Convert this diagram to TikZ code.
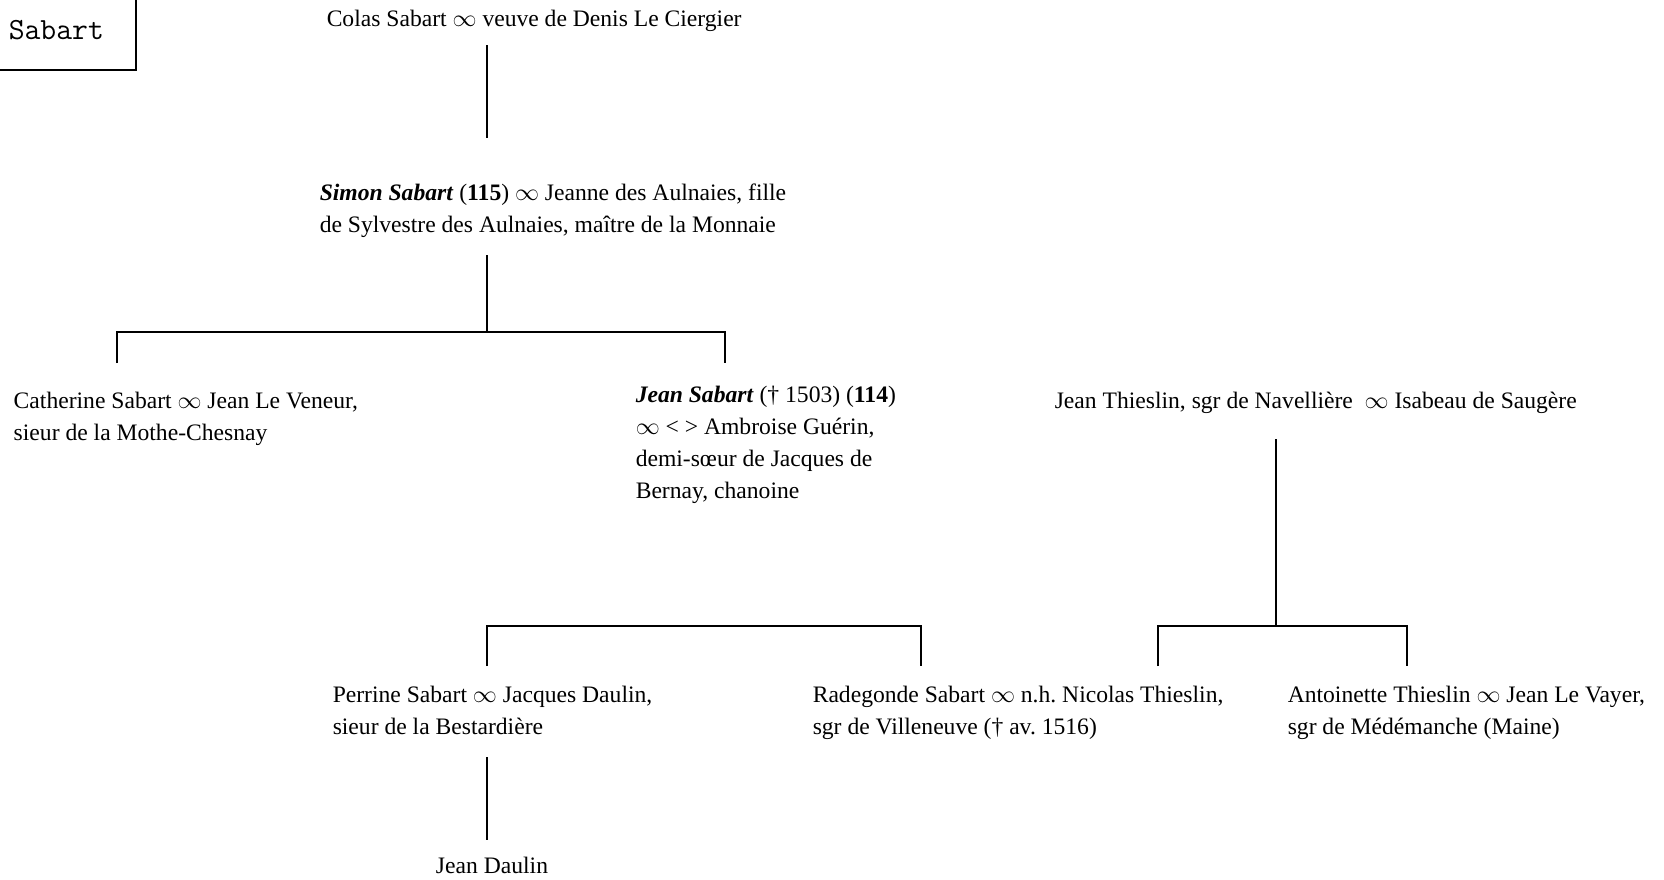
\documentclass[tikz,border=0pt]{standalone}
\usepackage{fontspec}
\setmainfont{Liberation Serif}
\usepackage{tikz}
\usetikzlibrary{positioning}

\begin{document}
\begin{tikzpicture}[x=0.5pt, y=-0.5pt, line width=0.75pt,
    personne/.style={anchor=base west, inner sep=0pt, align=left,
        font=\fontsize{11.8}{15.9}\selectfont}]
    \useasboundingbox (0,0) rectangle (1664,879);

    % Cartouche
    \draw (-10,-10) rectangle (136,70);
    \node[anchor=base west, inner sep=0pt, font=\ttfamily\fontsize{15.4}{17}\selectfont] (titre) at (8,39) {Sabart};

    % Les personnes (ancre sur la ligne de base de la derniere ligne)
    \node[personne] (colas) at (326,26) {Colas Sabart $\infty$ veuve de Denis Le Ciergier};
    \node[personne] (simon) at (319,232) {\textbf{\textit{Simon Sabart}} (\textbf{115}) $\infty$ Jeanne des Aulnaies, fille\\de Sylvestre des Aulnaies, maître de la Monnaie};
    \node[personne] (catherine) at (13,440) {Catherine Sabart $\infty$ Jean Le Veneur,\\sieur de la Mothe-Chesnay};
    \node[personne] (jean) at (635,498) {\textbf{\textit{Jean Sabart}} († 1503) (\textbf{114})\\$\infty$ < > Ambroise Guérin,\\demi-sœur de Jacques de\\Bernay, chanoine};
    \node[personne] (thieslin) at (1054,408) {Jean Thieslin, sgr de Navellière~ $\infty$ Isabeau de Saugère};
    \node[personne] (perrine) at (332,734) {Perrine Sabart $\infty$ Jacques Daulin,\\sieur de la Bestardière};
    \node[personne] (radegonde) at (812,734) {Radegonde Sabart $\infty$ n.h.\ Nicolas Thieslin,\\sgr de Villeneuve († av.\ 1516)};
    \node[personne] (antoinette) at (1287,734) {Antoinette Thieslin $\infty$ Jean Le Vayer,\\sgr de Médémanche (Maine)};
    \node[personne, anchor=base] (daulin) at (492,873) {Jean Daulin};

    % Points de jonction
    \coordinate (c1) at (487,45);
    \coordinate (c2) at (487,138);
    \coordinate (s1) at (487,255);
    \coordinate (s2) at (487,332);
    \coordinate (sg) at (117,332);
    \coordinate (sd) at (725,332);
    \coordinate (t1) at (1276,439);
    \coordinate (t2) at (1276,626);
    \coordinate (tg) at (1158,626);
    \coordinate (td) at (1407,626);
    \coordinate (pg) at (487,626);
    \coordinate (pd) at (921,626);
    \coordinate (d1) at (487,757);
    \coordinate (d2) at (487,840);

    % Traits de filiation
    \draw (c1) -- (c2);
    \draw (s1) -- (s2);
    \draw (sg) ++(0,31) -- (sg) -- (sd) -- ++(0,31);
    \draw (t1) -- (t2);
    \draw (tg) ++(0,40) -- (tg) -- (td) -- ++(0,40);
    \draw (pg) ++(0,40) -- (pg) -- (pd) -- ++(0,40);
    \draw (d1) -- (d2);
\end{tikzpicture}
\end{document}
